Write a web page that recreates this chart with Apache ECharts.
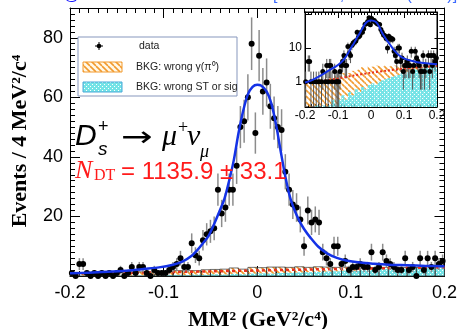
<!DOCTYPE html>
<html>
<head>
<meta charset="utf-8">
<script src="https://cdn.jsdelivr.net/npm/echarts@6/dist/echarts.min.js"></script>
<style>
html, body { margin: 0; padding: 0; background: #fff; }
#chart { width: 460px; height: 329px; }
</style>
</head>
<body>
<div id="chart"></div>
<script>
// MM^2 spectrum, 4 MeV^2/c^4 bins from -0.2 to 0.2
var binLow = -0.2;
var binWidth = 0.004;
var counts = [
    1, 0, 4, 4, 1, 0, 1, 0, 1, 0,
    1, 0, 1, 2, 0, 1, 3, 1, 3, 3,
    1, 0, 2, 1, 1, 1, 2, 3, 4, 6,
    3, 3, 11, 7, 6, 12, 14, 15, 16, 29,
    21, 23, 29, 29, 37, 50, 52, 60, 78, 48,
    74, 62, 65, 57, 53, 50, 49, 35, 29, 24,
    23, 19, 10, 22, 18, 19, 18, 8, 6, 4,
    10, 10, 4, 5, 2, 3, 3, 4, 3, 3,
    8, 2, 3, 8, 5, 4, 3, 2, 2, 6,
    2, 3, 0, 6, 2, 6, 3, 6, 4, 5
];

// total fit (blue)
var fitX = [-0.2, -0.18, -0.16, -0.14, -0.12, -0.105, -0.09, -0.08, -0.07, -0.064,
    -0.058, -0.052, -0.046, -0.04, -0.035, -0.03, -0.025, -0.02, -0.015, -0.01,
    -0.005, 0.0, 0.004, 0.01, 0.015, 0.02, 0.025, 0.03, 0.035, 0.04,
    0.045, 0.05, 0.057, 0.065, 0.075, 0.085, 0.095, 0.11, 0.125, 0.14,
    0.16, 0.18, 0.2];
var fitY = [0.95, 1.1, 1.4, 1.8, 2.4, 2.9, 3.8, 4.8, 6.8, 8.7,
    11, 13.5, 17.5, 22, 26, 32, 39, 48, 55.5, 61,
    63.5, 64.2, 64, 62, 58, 51, 42, 33.4, 26.5, 22,
    18.5, 15.8, 12.8, 9.9, 7.5, 6.1, 5.2, 4.5, 4.1, 3.8,
    3.6, 3.4, 3.3];

// background shape (red dotted)
var bkgX = [-0.2, -0.15, -0.1, -0.05, 0, 0.05, 0.1, 0.15, 0.2];
var bkgY = [0.9, 1.05, 1.25, 1.55, 1.85, 2.15, 2.45, 2.7, 2.9];

// background histograms, 0.01 wide bins from -0.2
var histLow = -0.2;
var histWidth = 0.01;
var histWrongST = [
    0.1, 0.1, 0.1, 0.2, 0.1, 0.2, 0.1, 0.2, 0.3, 0.2,
    0.3, 0.4, 0.3, 0.5, 0.4, 0.6, 0.5, 0.7, 0.6, 0.8,
    0.9, 0.8, 1.0, 1.1, 1.2, 1.3, 1.4, 1.5, 1.6, 1.8,
    1.7, 2.0, 2.1, 2.3, 2.2, 2.5, 2.6, 2.7, 2.8, 2.9
];
var histWrongGamma = [
    0.9, 0.7, 1.0, 0.8, 1.1, 0.9, 1.0, 1.2, 1.0, 1.3,
    1.2, 1.4, 1.5, 1.3, 1.7, 1.6, 1.8, 2.0, 1.7, 2.1,
    1.9, 2.2, 2.0, 1.8, 1.9, 1.6, 1.7, 1.5, 1.3, 1.2,
    1.0, 0.9, 0.7, 0.6, 0.5, 0.4, 0.3, 0.2, 0.3, 0.2
];

var legendNames = ['data', 'BKG: wrong γ(π⁰)', 'BKG: wrong ST or sig'];

var insetMin = 0.18;
var insetMax = 115;

function makeHatch() {
    var c = document.createElement('canvas');
    c.width = 6; c.height = 6;
    var g = c.getContext('2d');
    g.strokeStyle = '#f29a2e';
    g.lineWidth = 1.6;
    [-6, 0, 6].forEach(function (k) {
        g.beginPath();
        g.moveTo(k, 0);
        g.lineTo(k + 6, 6);
        g.stroke();
    });
    return c;
}
function makeDots() {
    var c = document.createElement('canvas');
    c.width = 4; c.height = 4;
    var g = c.getContext('2d');
    g.fillStyle = '#74e3e6';
    g.fillRect(0, 0, 4, 4);
    g.fillStyle = '#ffffff';
    g.fillRect(0, 0, 1, 1);
    g.fillRect(2, 2, 1, 1);
    return c;
}
var hatchFill = { image: makeHatch(), repeat: 'repeat' };
var dotsFill = { image: makeDots(), repeat: 'repeat' };

var centers = counts.map(function (c, i) { return +(binLow + binWidth * (i + 0.5)).toFixed(4); });
var mainPoints = counts.map(function (c, i) { return [centers[i], c]; });
// poisson error bars
var mainErr = counts.map(function (c, i) {
    return [centers[i], Math.max(c - Math.sqrt(c), 0), c > 0 ? c + Math.sqrt(c) : 1.1];
});
var insetPoints = mainPoints.filter(function (p) { return p[1] > 0; });
var insetErr = mainErr.filter(function (e, i) { return counts[i] > 0; });

var stCells = [], gammaCells = [], totalCells = [];
for (var i = 0; i < histWrongST.length; i++) {
    var x0 = +(histLow + i * histWidth).toFixed(3);
    var x1 = +(x0 + histWidth).toFixed(3);
    stCells.push([x0, x1, 0, histWrongST[i]]);
    gammaCells.push([x0, x1, histWrongST[i], histWrongST[i] + histWrongGamma[i]]);
    totalCells.push([x0, x1, 0, histWrongST[i] + histWrongGamma[i]]);
}
var fitLine = fitX.map(function (x, i) { return [x, fitY[i]]; });
var bkgLine = bkgX.map(function (x, i) { return [x, bkgY[i]]; });

function histItem(fill, stroke, yMin) {
    return function (params, api) {
        var lo = Math.max(api.value(2), yMin);
        var hi = api.value(3);
        if (!(hi > lo)) return;
        var a = api.coord([api.value(0), lo]);
        var b = api.coord([api.value(1), hi]);
        var shape = echarts.graphic.clipRectByRect({
            x: a[0], y: b[1], width: b[0] - a[0], height: a[1] - b[1]
        }, params.coordSys);
        if (!shape) return;
        return {
            type: 'rect',
            shape: shape,
            style: { fill: fill, stroke: stroke, lineWidth: stroke ? 0.7 : 0 }
        };
    };
}
function errItem(yMin, color, width) {
    return function (params, api) {
        var cs = params.coordSys;
        var x = api.value(0);
        var a = api.coord([x, Math.max(api.value(1), yMin)]);
        var b = api.coord([x, api.value(2)]);
        var top = Math.max(b[1], cs.y);
        var bottom = Math.min(a[1], cs.y + cs.height);
        if (bottom <= top) return;
        return {
            type: 'line',
            shape: { x1: a[0], y1: bottom, x2: a[0], y2: top },
            style: { stroke: color, lineWidth: width }
        };
    };
}

var tickFont = 'Liberation Sans';
function frameX(gridIndex, pos, showLabel, size) {
    return {
        type: 'value', gridIndex: gridIndex, position: pos,
        min: -0.2, max: 0.2, interval: 0.1,
        axisLine: { show: true, onZero: false, lineStyle: { color: '#000', width: 1 } },
        axisTick: { show: true, inside: true, length: gridIndex === 0 ? 10 : 6, lineStyle: { color: '#000' } },
        minorTick: { show: true, splitNumber: 10, length: gridIndex === 0 ? 5 : 3, lineStyle: { color: '#000' } },
        splitLine: { show: false },
        axisLabel: {
            show: showLabel, color: '#000', fontFamily: tickFont, fontSize: size,
            margin: gridIndex === 0 ? 8 : 3,
            formatter: function (v) { return Math.abs(v) < 1e-9 ? '0' : String(+v.toFixed(1)); }
        }
    };
}
function frameY(gridIndex, pos, showLabel) {
    var main = gridIndex === 0;
    var ax = {
        gridIndex: gridIndex, position: pos,
        axisLine: { show: true, onZero: false, lineStyle: { color: '#000' } },
        axisTick: { show: true, inside: true, length: main ? 10 : 6, lineStyle: { color: '#000' } },
        splitLine: { show: false },
        axisLabel: { show: showLabel, color: '#000', fontFamily: tickFont, fontSize: main ? 18 : 12, margin: main ? 7 : 3 }
    };
    if (main) {
        ax.type = 'value'; ax.min = 0; ax.max = 90; ax.interval = 20;
        ax.minorTick = { show: true, splitNumber: 10, length: 5, lineStyle: { color: '#000' } };
        ax.axisLabel.formatter = function (v) { return (v === 0 || v === 90) ? '' : String(v); };
    } else {
        ax.type = 'log'; ax.logBase = 10; ax.min = insetMin; ax.max = insetMax;
        ax.axisLabel.formatter = function (v) {
            if (Math.abs(v - 1) < 1e-6) return '1';
            if (Math.abs(v - 10) < 1e-5) return '10';
            return '';
        };
    }
    return ax;
}

var option = {
    animation: false,
    backgroundColor: '#fff',
    grid: [
        { left: 70, right: 14, top: 8, bottom: 53, show: false },
        { left: 305, right: 23, top: 12, bottom: 222, show: true, backgroundColor: '#fff', borderColor: '#000', borderWidth: 1 }
    ],
    xAxis: [
        frameX(0, 'bottom', true, 18),
        frameX(0, 'top', false, 18),
        frameX(1, 'bottom', true, 12),
        frameX(1, 'top', false, 12)
    ],
    yAxis: [
        frameY(0, 'left', true),
        frameY(0, 'right', false),
        frameY(1, 'left', true),
        frameY(1, 'right', false)
    ],
    series: [
        // main frame
        { type: 'custom', xAxisIndex: 0, yAxisIndex: 0, z: 2, renderItem: histItem(dotsFill, null, 0), data: stCells },
        { type: 'custom', xAxisIndex: 0, yAxisIndex: 0, z: 2, renderItem: histItem(hatchFill, null, 0), data: gammaCells },
        { type: 'custom', xAxisIndex: 0, yAxisIndex: 0, z: 3, renderItem: histItem('none', '#333', 0), data: totalCells },
        {
            type: 'line', xAxisIndex: 0, yAxisIndex: 0, z: 4, data: bkgLine, smooth: 0.3, showSymbol: false,
            lineStyle: { color: '#e8321e', width: 2.5, type: [3, 3] }
        },
        { type: 'custom', xAxisIndex: 0, yAxisIndex: 0, z: 5, renderItem: errItem(0, '#8c8c8c', 1.5), data: mainErr },
        {
            type: 'scatter', xAxisIndex: 0, yAxisIndex: 0, z: 6, data: mainPoints, symbolSize: 6,
            itemStyle: { color: '#000', opacity: 1 }
        },
        {
            type: 'line', xAxisIndex: 0, yAxisIndex: 0, z: 7, data: fitLine, smooth: 0.3, showSymbol: false,
            lineStyle: { color: '#1432e6', width: 2.5 }
        },
        // inset (log scale)
        { type: 'custom', xAxisIndex: 2, yAxisIndex: 2, z: 12, renderItem: histItem(dotsFill, null, insetMin), data: stCells },
        { type: 'custom', xAxisIndex: 2, yAxisIndex: 2, z: 12, renderItem: histItem(hatchFill, null, insetMin), data: gammaCells },
        { type: 'custom', xAxisIndex: 2, yAxisIndex: 2, z: 13, renderItem: errItem(insetMin, '#555', 1), data: insetErr },
        {
            type: 'line', xAxisIndex: 2, yAxisIndex: 2, z: 14, data: bkgLine, smooth: 0.3, showSymbol: false,
            lineStyle: { color: '#e8321e', width: 2, type: [2, 2] }
        },
        {
            type: 'scatter', xAxisIndex: 2, yAxisIndex: 2, z: 15, data: insetPoints, symbolSize: 5,
            itemStyle: { color: '#000', opacity: 1 }
        },
        {
            type: 'line', xAxisIndex: 2, yAxisIndex: 2, z: 16, data: fitLine, smooth: 0.3, showSymbol: false,
            lineStyle: { color: '#1432e6', width: 2 }
        }
    ],
    graphic: [
        // header line, cut by the top edge
        { type: 'text', left: 0, top: -12, z: 50, style: { text: '3.19 fb⁻¹ @ √s = 4.178 GeV', fill: '#1a1aff', font: '16px Liberation Sans' } },
        { type: 'text', left: 273, top: -12, z: 50, style: { text: '[PRL 122, 071802 (2019)]', fill: '#3d6bff', font: '16px Liberation Sans' } },
        // axis titles
        { type: 'text', x: 20, y: 141, rotation: Math.PI / 2, z: 50, style: { text: 'Events / 4 MeV²/c⁴', fill: '#000', font: 'bold 22px Liberation Serif', align: 'center', verticalAlign: 'middle' } },
        { type: 'text', x: 258, y: 320, z: 50, style: { text: 'MM² (GeV²/c⁴)', fill: '#000', font: 'bold 22px Liberation Serif', align: 'center', verticalAlign: 'middle' } },
        // legend box
        { type: 'rect', shape: { x: 78, y: 37, width: 159, height: 59 }, z: 40, style: { fill: '#fff', stroke: '#8797bd', lineWidth: 1 } },
        { type: 'line', shape: { x1: 95, y1: 46, x2: 103, y2: 46 }, z: 41, style: { stroke: '#000', lineWidth: 1 } },
        { type: 'line', shape: { x1: 99, y1: 42, x2: 99, y2: 50 }, z: 41, style: { stroke: '#000', lineWidth: 1 } },
        { type: 'circle', shape: { cx: 99, cy: 46, r: 2.3 }, z: 41, style: { fill: '#000' } },
        { type: 'text', x: 139, y: 46, z: 41, style: { text: legendNames[0], fill: '#222', font: '10.5px Liberation Sans', verticalAlign: 'middle' } },
        { type: 'rect', shape: { x: 83, y: 62, width: 39, height: 10 }, z: 41, style: { fill: '#fff8e8', stroke: '#f29a2e', lineWidth: 1 } },
        { type: 'rect', shape: { x: 83, y: 62, width: 39, height: 10 }, z: 42, style: { fill: hatchFill } },
        { type: 'text', x: 136, y: 67, z: 41, style: { text: legendNames[1], fill: '#222', font: '10.5px Liberation Sans', verticalAlign: 'middle' } },
        { type: 'rect', shape: { x: 83, y: 82, width: 39, height: 10 }, z: 41, style: { fill: dotsFill, stroke: '#4aa8d8', lineWidth: 1 } },
        { type: 'text', x: 136, y: 87, z: 41, style: { text: legendNames[2], fill: '#222', font: '10.5px Liberation Sans', verticalAlign: 'middle' } },
        // decay and yield
        { type: 'text', x: 75, y: 137, z: 50, style: { text: 'D', fill: '#000', font: 'italic 30px Liberation Sans', verticalAlign: 'middle' } },
        { type: 'text', x: 98, y: 150, z: 50, style: { text: 's', fill: '#000', font: 'italic 19px Liberation Sans', verticalAlign: 'middle' } },
        { type: 'text', x: 98, y: 127, z: 50, style: { text: '+', fill: '#000', font: '18px Liberation Sans', verticalAlign: 'middle' } },
        { type: 'text', x: 121, y: 139, z: 50, scaleX: 1.35, style: { text: '→', fill: '#000', font: '28px DejaVu Sans', verticalAlign: 'middle' } },
        { type: 'text', x: 162, y: 137, z: 50, style: { text: 'μ', fill: '#000', font: 'italic 30px Liberation Serif', verticalAlign: 'middle' } },
        { type: 'text', x: 178, y: 128, z: 50, style: { text: '+', fill: '#000', font: '18px Liberation Serif', verticalAlign: 'middle' } },
        { type: 'text', x: 187, y: 137, z: 50, style: { text: 'ν', fill: '#000', font: 'italic 30px Liberation Serif', verticalAlign: 'middle' } },
        { type: 'text', x: 200, y: 152, z: 50, style: { text: 'μ', fill: '#000', font: 'italic 18px Liberation Serif', verticalAlign: 'middle' } },
        { type: 'text', x: 75, y: 171, z: 50, style: { text: 'N', fill: '#ff1a1a', font: 'italic 26px Liberation Serif', verticalAlign: 'middle' } },
        { type: 'text', x: 94, y: 176, z: 50, style: { text: 'DT', fill: '#ff1a1a', font: '16px Liberation Serif', verticalAlign: 'middle' } },
        { type: 'text', x: 121, y: 172, z: 50, style: { text: '= 1135.9 ± 33.1', fill: '#ff1a1a', font: '24px Liberation Sans', verticalAlign: 'middle' } }
    ]
};

var chart = echarts.init(document.getElementById('chart'));
chart.setOption(option);
</script>
</body>
</html>
